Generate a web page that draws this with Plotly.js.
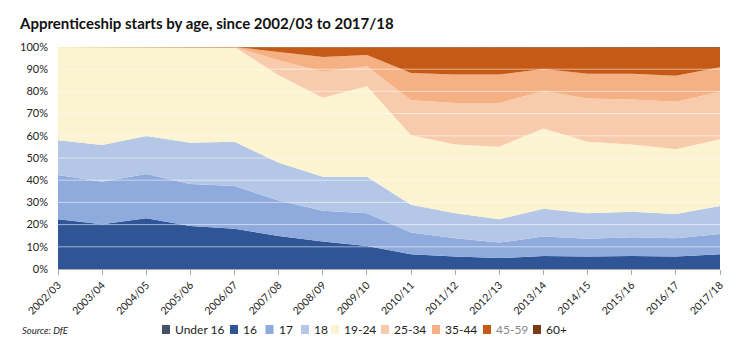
<!DOCTYPE html>
<html>
<head>
<meta charset="utf-8">
<script src="https://cdn.plot.ly/plotly-3.0.1.min.js"></script>
<style>
  html, body { margin: 0; padding: 0; background: #fff; }
  #chart { width: 749px; height: 355px; }
</style>
</head>
<body>
<div id="chart"></div>
<script>
// ---- Data (percent share of apprenticeship starts by age) ----
const years = ['2002/03','2003/04','2004/05','2005/06','2006/07','2007/08','2008/09','2009/10',
               '2010/11','2011/12','2012/13','2013/14','2014/15','2015/16','2016/17','2017/18'];
const seriesNames = ['Under 16','16','17','18','19-24','25-34','35-44','45-59','60+'];
const under16 = [0, 0, 0.2, 0.3, 0, 0, 0, 0, 0, 0, 0, 0, 0, 0, 0, 0];
const age16   = [22.4, 20.2, 22.7, 19.1, 18.1, 14.9, 12.4, 10.4, 6.7, 5.6, 4.9, 5.9, 5.6, 5.9, 5.6, 6.7];
const age17   = [19.9, 19.1, 19.9, 18.9, 19.3, 15.9, 13.8, 14.7, 9.7, 8.3, 7.0, 8.7, 8.0, 8.4, 8.3, 9.1];
const age18   = [15.7, 16.5, 17.1, 18.6, 19.9, 17.1, 15.4, 16.5, 12.5, 11.2, 10.5, 12.5, 11.5, 11.5, 10.9, 12.6];
const age1924 = [42.0, 44.2, 40.1, 43.1, 42.7, 39.4, 35.5, 40.7, 31.4, 31.0, 32.7, 36.2, 32.2, 30.3, 29.1, 30.1];
const age2534 = [0, 0, 0, 0, 0, 6.7, 11.7, 9.0, 15.7, 18.7, 19.7, 16.9, 19.5, 20.3, 21.4, 21.3];
const age3544 = [0, 0, 0, 0, 0, 3.8, 6.7, 5.1, 12.3, 12.8, 12.8, 9.9, 11.1, 11.5, 11.8, 11.1];
const age4559 = [0, 0, 0, 0, 0, 1.9, 4.2, 3.3, 11.4, 12.1, 12.1, 9.6, 11.8, 11.8, 12.6, 8.8];
const age60p  = [0, 0, 0, 0, 0, 0.3, 0.3, 0.3, 0.3, 0.3, 0.3, 0.3, 0.3, 0.3, 0.3, 0.3];
const yTicks = [0, 10, 20, 30, 40, 50, 60, 70, 80, 90, 100];
const yTickLabels = ['0%','10%','20%','30%','40%','50%','60%','70%','80%','90%','100%'];

// ---- Styling ----
const seriesValues = [under16, age16, age17, age18, age1924, age2534, age3544, age4559, age60p];
const colors = ['#46526a','#2f5597','#8faadc','#b4c7e7','#fcf3d0','#f8cbad','#f5b183','#c55a17','#7b3a12'];
const legendTextColors = ['#222','#222','#222','#222','#222','#222','#222','#888','#222'];
const legendSwatchX = [162, 230, 265.5, 301, 331, 381, 432, 483, 533];

const W = 749, H = 355;
const M = {l: 58, r: 29, t: 47, b: 86};
const PW = W - M.l - M.r, PH = H - M.t - M.b;
const px2x = px => (px - M.l) / PW;
const px2y = py => (H - M.b - py) / PH;

const FONT = 'Lato, "Open Sans", sans-serif';

const traces = seriesNames.map((name, i) => ({
  type: 'scatter',
  mode: 'lines',
  name: name,
  x: years,
  y: seriesValues[i],
  stackgroup: 'one',
  line: {width: 0, color: colors[i]},
  fillcolor: colors[i],
  showlegend: false,
  hoverinfo: 'x+y+name'
}));

const shapes = [];
// grid lines drawn above areas (light, semi-transparent)
yTicks.filter(v => v > 0 && v < 100).forEach(v => {
  shapes.push({type: 'line', xref: 'paper', x0: 0, x1: 1, yref: 'y', y0: v, y1: v,
               line: {color: 'rgba(255,255,255,0.55)', width: 1}, layer: 'above'});
});

const annotations = [];
// custom legend
seriesNames.forEach((name, i) => {
  const sx = legendSwatchX[i];
  shapes.push({type: 'rect', xref: 'paper', yref: 'paper',
               x0: px2x(sx), x1: px2x(sx + 8), y0: px2y(334), y1: px2y(325),
               fillcolor: colors[i], line: {width: 0}});
  annotations.push({xref: 'paper', yref: 'paper', x: px2x(sx + 11), y: px2y(329.5),
                    xanchor: 'left', yanchor: 'middle', showarrow: false,
                    text: name, font: {family: FONT, size: 12, color: legendTextColors[i]}});
});
annotations.push({xref: 'paper', yref: 'paper', x: px2x(20), y: px2y(330),
                  xanchor: 'left', yanchor: 'middle', showarrow: false,
                  text: '<i>Source: DfE</i>', font: {family: FONT, size: 9.5, color: '#222'}});

const layout = {
  width: W, height: H,
  margin: M,
  paper_bgcolor: '#fff',
  plot_bgcolor: '#fff',
  font: {family: FONT, color: '#222'},
  title: {
    text: '<b>Apprenticeship starts by age, since 2002/03 to 2017/18</b>',
    x: 20 / W, xanchor: 'left', xref: 'container',
    y: 1 - 24 / H, yanchor: 'middle', yref: 'container',
    font: {family: FONT, size: 15, color: '#111'}
  },
  xaxis: {
    type: 'category',
    range: [0, years.length - 1],
    tickangle: -45,
    ticks: 'outside', ticklen: 5, tickcolor: '#aaa', tickwidth: 1,
    showline: true, linecolor: '#aaa', linewidth: 1,
    showgrid: false, zeroline: false,
    tickfont: {family: FONT, size: 10.5, color: '#222'}
  },
  yaxis: {
    range: [0, 100],
    tickmode: 'array',
    tickvals: yTicks,
    ticktext: yTickLabels,
    showgrid: false, zeroline: false, showline: false,
    ticks: '',
    ticklabelstandoff: 9,
    tickfont: {family: FONT, size: 11, color: '#222'}
  },
  shapes: shapes,
  annotations: annotations,
  showlegend: false
};

Plotly.newPlot('chart', traces, layout, {displayModeBar: false, staticPlot: true});
</script>
</body>
</html>
